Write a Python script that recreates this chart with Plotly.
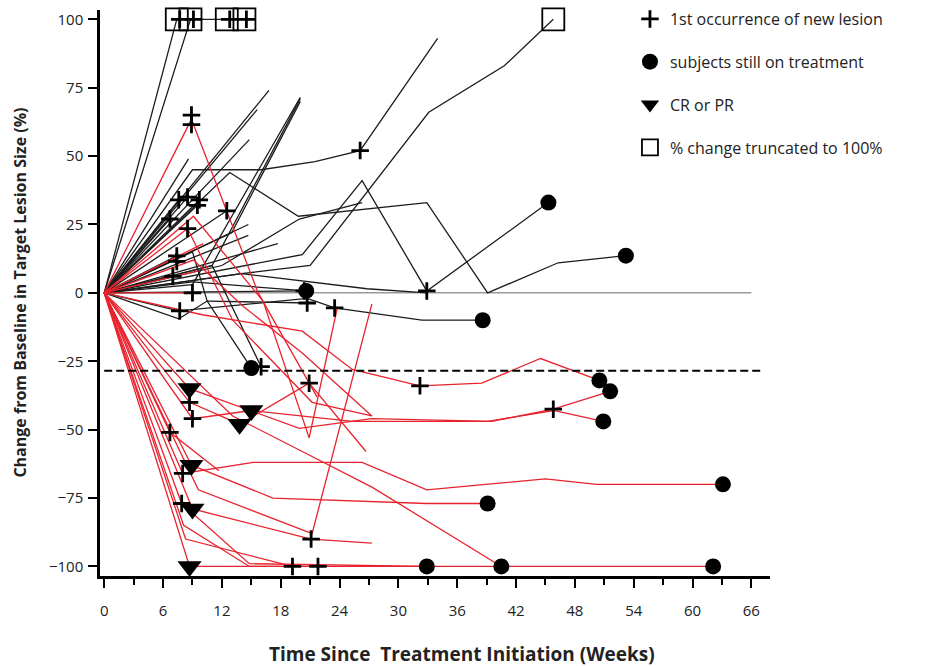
import plotly.graph_objects as go

# ---------------- data ----------------
subject_group = (["NR"] * 32) + (["R"] * 21)
subject_weeks = [
    [0, 7.4], [0, 8.8, 12.5, 14.3], [0, 16.8], [0, 15.6], [0, 9, 20], [0, 11, 20], [0, 13, 20],
    [0, 14.8], [0, 9, 16, 21.5, 26.1, 34], [0, 14, 21, 33.1, 40.8, 45.8],
    [0, 12.8, 19.8, 32.9, 39.1, 46.3, 53.2], [0, 20.2, 26.3, 32.9, 45.3], [0, 9, 20.6],
    [0, 7.6, 20.7, 23.5, 32.4, 38.6], [0, 7.6, 10.5, 20.7], [0, 9, 10.5, 15], [0, 14, 26.8, 32.9],
    [0, 12, 19.9, 26.3], [0, 7.6], [0, 8.5], [0, 9.7], [0, 9.5], [0, 6.7], [0, 7.4], [0, 7.0],
    [0, 12.5], [0, 8.6], [0, 14.7], [0, 14.7], [0, 17.7], [0, 20.4], [0, 11, 16],
    # responders / red
    [0, 8.9, 15.7, 21.7], [0, 8.7, 19.9, 27.3, 39.5, 45.8, 51.6], [0, 8.7, 13.8, 20.9, 26.7],
    [0, 9, 15, 25.3, 39.1, 45.8, 50.9], [0, 10, 20.2, 25.3, 32.2, 38.5, 44.5, 50.5], [0, 6.7, 11.7],
    [0, 8.9, 17.2, 32.9, 39.1], [0, 8, 15.2, 26.3, 32.9, 45, 50.2, 63.1], [0, 9, 21.1, 27.3],
    [0, 7.9, 14.8, 32.9], [0, 8.7, 19.2, 40.5, 62.1], [0, 13.1, 20.2, 27.3, 40.5],
    [0, 8.1, 14.8, 21.8], [0, 8.3, 19.2], [0, 9.6, 21.2, 27.3], [0, 9.1, 16.2, 20.9, 23.8],
    [0, 8.5, 13.1, 21.2, 27.3], [0, 9.1, 14.2, 20.2, 27.3], [0, 9.6], [0, 10.1], [0, 9],
]
subject_change = [
    [0, 100], [0, 100, 100, 100], [0, 74], [0, 67], [0, 3, 71.5], [0, 10, 71], [0, 22, 70],
    [0, 56], [0, 45, 45, 48, 52, 93], [0, 7, 10, 66, 83, 100],
    [0, 44, 28, 33, 0, 11, 13.6], [0, 14, 41, 0.7, 33], [0, 4, 0.7],
    [0, -6.6, -2, -5.5, -10, -10], [0, -9.5, -3, -3.7], [0, 15, -3, -27.5], [0, 7, 1.5, 0],
    [0, 10, 27, 33], [0, 34], [0, 35], [0, 34], [0, 32], [0, 27], [0, 13.5], [0, 6],
    [0, 30], [0, 49], [0, 25], [0, 21], [0, 18], [0, 0.7], [0, 10, -27],
    [0, 63.5, 0, -38], [0, -35, -49.5, -46, -47, -42.5, -36], [0, -40, -48, -33, -58],
    [0, -46, -43, -47, -47, -43, -47], [0, -8, -14, -28, -34, -33, -24, -32], [0, -51, -65],
    [0, -63, -75, -77, -77], [0, -66, -62, -62, -72, -68, -70, -70], [0, -79, -90, -91.5],
    [0, -77, -99, -100], [0, -100, -100, -100, -100], [0, -45, -58, -71, -100],
    [0, -85, -100, -100], [0, -90, -100], [0, -72, -88, -4], [0, 28, -3, -53, -5],
    [0, 23.5, -10, -40, -45], [0, 12, -5, -22, -45], [0, 8], [0, 18], [0, 0],
]

lesion_week = [7.7, 9.1, 12.8, 14.5, 8.9, 8.9, 7.6, 8.5, 9.7, 9.5, 6.7, 8.5, 12.5, 7.4, 7.4, 7.0, 9.0,
               7.7, 20.4, 20.7, 23.5, 32.9, 26.1, 16.0, 20.9, 32.2, 45.8, 8.7, 9.0, 6.7, 8.0, 7.9,
               21.1, 19.2, 21.8]
lesion_change = [100, 100, 100, 100, 65, 61.5, 34, 35, 34, 32, 27, 23.5, 30, 13.5, 11.5, 6, 0,
                 -6.6, 0.7, -3.7, -5.5, 0.7, 52, -27, -33, -34, -42.5, -40, -46, -51, -66, -77,
                 -90, -100, -100]
ontx_week = [20.6, 38.6, 45.3, 53.2, 15.0, 50.5, 51.6, 50.9, 63.1, 39.1, 32.9, 40.5, 62.1]
ontx_change = [0.7, -10, 33, 13.6, -27.5, -32, -36, -47, -70, -77, -100, -100, -100]
resp_week = [8.7, 15.0, 13.8, 8.9, 9.0, 8.7]
resp_change = [-35, -43, -48, -63, -79, -100]
trunc_week = [7.4, 8.8, 12.5, 14.3, 45.8]
trunc_change = [100, 100, 100, 100, 100]

x_ticks = [0, 6, 12, 18, 24, 30, 36, 42, 48, 54, 60, 66]
y_ticks = [100, 75, 50, 25, 0, -25, -50, -75, -100]
response_threshold = -28.5

# ---------------- figure ----------------
group_color = {"NR": "#1c1c1c", "R": "#e8232e"}
fig = go.Figure()

for g in ["NR", "R"]:
    for grp, w, c in zip(subject_group, subject_weeks, subject_change):
        if grp != g:
            continue
        fig.add_trace(go.Scatter(x=w, y=c, mode="lines", showlegend=False, hoverinfo="skip",
                                 cliponaxis=False,
                                 line=dict(color=group_color[g], width=1.3)))

fig.add_trace(go.Scatter(x=lesion_week, y=lesion_change, mode="markers", name="1st occurrence of new lesion",
                         legendgroup="a", cliponaxis=False,
                         marker=dict(symbol="cross-thin", size=12.5, color="black",
                                     line=dict(color="black", width=2.8))))
fig.add_trace(go.Scatter(x=ontx_week, y=ontx_change, mode="markers", name="subjects still on treatment",
                         legendgroup="b", cliponaxis=False,
                         marker=dict(symbol="circle", size=16, color="black")))
fig.add_trace(go.Scatter(x=resp_week, y=resp_change, mode="markers", name="CR or PR",
                         legendgroup="c", cliponaxis=False,
                         marker=dict(symbol="triangle-down", size=21, color="black")))
fig.add_trace(go.Scatter(x=trunc_week, y=trunc_change, mode="markers", name="% change truncated to 100%",
                         legendgroup="d", cliponaxis=False,
                         marker=dict(symbol="square-open", size=22, color="black",
                                     line=dict(color="black", width=1.8))))

fig.add_shape(type="line", x0=0, x1=66, y0=0, y1=0, layer="below",
              line=dict(color="#9a9a9a", width=1.5))
fig.add_shape(type="line", x0=0, x1=67, y0=response_threshold, y1=response_threshold,
              line=dict(color="black", width=2, dash="8px,4px"))

font_main = "Open Sans, Liberation Sans, sans-serif"
fig.update_layout(
    width=932, height=666,
    margin=dict(l=100, r=162, t=10, b=90, autoexpand=False),
    paper_bgcolor="white", plot_bgcolor="white",
    font=dict(family=font_main, color="#222", size=14),
    legend=dict(x=0.791, y=0.997, xanchor="left", yanchor="top", yref="container",
                tracegroupgap=19,
                font=dict(size=16, family=font_main, color="#222"), bgcolor="rgba(0,0,0,0)",
                itemsizing="trace"),
    xaxis=dict(range=[-0.43, 67.9], showgrid=False, zeroline=False, showline=True,
               linecolor="black", linewidth=2.5, ticks="outside", ticklen=9, tickwidth=2,
               tickcolor="black", tickvals=x_ticks, ticklabelstandoff=10,
               tickfont=dict(size=15, family=font_main, color="#222"),
               minor=dict(dtick=3, tick0=0, ticks="outside", ticklen=6, tickwidth=1.5,
                          tickcolor="black", showgrid=False)),
    yaxis=dict(range=[-103.5, 103.4], showgrid=False, zeroline=False, showline=True,
               linecolor="black", linewidth=2.5, ticks="outside", ticklen=9, tickwidth=2,
               tickcolor="black", tickvals=y_ticks, ticklabelstandoff=2,
               tickfont=dict(size=15, family=font_main, color="#222")),
    annotations=[
        dict(text="<b>Time Since  Treatment Initiation (Weeks)</b>", xref="paper", yref="paper",
             x=0.54, y=-0.138, xanchor="center", yanchor="middle", showarrow=False,
             font=dict(size=19, family=font_main, color="#222")),
        dict(text="<b>Change from Baseline in Target Lesion Size (%)</b>", xref="paper", yref="paper",
             x=-0.12, y=0.5, xanchor="center", yanchor="middle", textangle=-90, showarrow=False,
             font=dict(size=16, family=font_main, color="#222")),
    ],
)

fig.write_html("out.html")
